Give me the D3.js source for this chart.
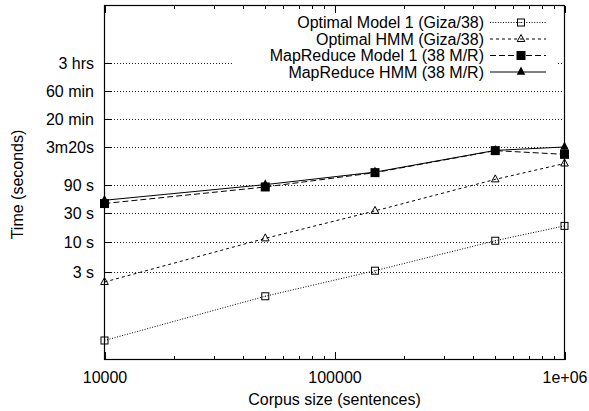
<!DOCTYPE html>
<html>
<head>
<meta charset="utf-8">
<script src="https://cdn.jsdelivr.net/npm/d3@7"></script>
<style>
  html, body { margin: 0; padding: 0; background: #fff; }
  svg { display: block; font-family: "Liberation Sans", Arial, Helvetica, sans-serif; }
</style>
</head>
<body>
<svg id="chart" width="589" height="411"></svg>
<script>
// ---- data ----
const corpusSizes = [10000, 50000, 150000, 500000, 1000000];
const optimalModel1 = [0.21, 1.18, 3.2, 10.3, 18.4];
const optimalHMM = [2.06, 11.3, 33, 113, 210];
const mapReduceModel1 = [44, 84, 147, 347, 300];
const mapReduceHMM = [50, 92, 150, 350, 400];
const seriesNames = ["Optimal Model 1 (Giza/38)", "Optimal HMM (Giza/38)", "MapReduce Model 1 (38 M/R)", "MapReduce HMM (38 M/R)"];
const yTickValues = [3, 10, 30, 90, 400, 1200, 3600, 10800];
const yTickLabels = ["3 s", "10 s", "30 s", "90 s", "3m20s", "20 min", "60 min", "3 hrs"];
const xTickValues = [10000, 100000, 1000000];
const xTickLabels = ["10000", "100000", "1e+06"];
const xTitle = "Corpus size (sentences)";
const yTitle = "Time (seconds)";

// ---- layout ----
const FS = "16px";
const L = 104.5, R = 564.5, T = 5.5, B = 359.5;
const svg = d3.select("#chart");
const x = d3.scaleLog().domain([1e4, 1e6]).range([L, R]);
const y = d3.scaleLog().domain([0.1, 1e5]).range([B, T]);

// minor x ticks
const xMinor = [];
[1e4, 1e5].forEach(d => { for (let k = 2; k <= 9; k++) xMinor.push(d * k); });

// grid lines
svg.append("g").selectAll("line").data(yTickValues).join("line")
  .attr("x1", L).attr("x2", R)
  .attr("y1", d => Math.round(y(d)) + 0.5).attr("y2", d => Math.round(y(d)) + 0.5)
  .attr("stroke", "#222").attr("stroke-width", 1).attr("stroke-dasharray", "1,2")
  .attr("shape-rendering", "crispEdges");

// axes
const fmtX = d => xTickLabels[xTickValues.indexOf(d)];
const fmtY = d => yTickLabels[yTickValues.indexOf(d)];

const gxb = svg.append("g").attr("transform", `translate(0,${B})`)
  .call(d3.axisBottom(x).tickValues(xTickValues).tickFormat(fmtX).tickSize(-7.5).tickPadding(11.8));
const gxbm = svg.append("g").attr("transform", `translate(0,${B})`)
  .call(d3.axisBottom(x).tickValues(xMinor).tickFormat("").tickSize(-3.8));
const gxt = svg.append("g").attr("transform", `translate(0,${T})`)
  .call(d3.axisTop(x).tickValues(xTickValues).tickFormat("").tickSize(-7.5));
const gxtm = svg.append("g").attr("transform", `translate(0,${T})`)
  .call(d3.axisTop(x).tickValues(xMinor).tickFormat("").tickSize(-3.8));
const gy = svg.append("g").attr("transform", `translate(${L},0)`)
  .call(d3.axisLeft(y).tickValues(yTickValues).tickFormat(fmtY).tickSize(-7.5).tickPadding(10.5));

[gxb, gxbm, gxt, gxtm, gy].forEach(g => {
  g.select(".domain").remove();
  g.selectAll("line").attr("stroke", "#000").attr("shape-rendering", "crispEdges");
  g.selectAll("text").attr("fill", "#000").style("font-size", FS)
    .style("font-family", '"Liberation Sans", Arial, sans-serif');
});
gy.selectAll("text").attr("dy", "0.35em");

// legend background (opaque key)
const legendX = 484, legendRowY = [22.5, 39, 55.5, 72];
svg.append("rect").attr("x", 232).attr("y", 14).attr("width", 324).attr("height", 66).attr("fill", "#fff");

// border
svg.append("rect").attr("x", L).attr("y", T).attr("width", R - L).attr("height", B - T)
  .attr("fill", "none").attr("stroke", "#000").attr("stroke-width", 1.2);

// series
const series = [
  { name: seriesNames[0], values: optimalModel1, dash: "1,1.6", marker: "openSquare" },
  { name: seriesNames[1], values: optimalHMM, dash: "3,3", marker: "openTriangle" },
  { name: seriesNames[2], values: mapReduceModel1, dash: "6,3", marker: "filledSquare" },
  { name: seriesNames[3], values: mapReduceHMM, dash: null, marker: "filledTriangle" }
];

function drawMarker(g, type, cx, cy) {
  if (type === "openSquare") {
    g.append("rect").attr("x", cx - 3.5).attr("y", cy - 3.5).attr("width", 7).attr("height", 7)
      .attr("fill", "none").attr("stroke", "#000").attr("stroke-width", 1);
    g.append("rect").attr("x", cx - 0.5).attr("y", cy - 0.5).attr("width", 1).attr("height", 1).attr("fill", "#000");
  } else if (type === "filledSquare") {
    g.append("rect").attr("x", cx - 4.5).attr("y", cy - 4.5).attr("width", 9).attr("height", 9).attr("fill", "#000");
  } else if (type === "openTriangle") {
    g.append("path").attr("d", `M${cx},${cy - 4.5}L${cx + 3.8},${cy + 2.5}L${cx - 3.8},${cy + 2.5}Z`)
      .attr("fill", "none").attr("stroke", "#000").attr("stroke-width", 1);
  } else {
    g.append("path").attr("d", `M${cx},${cy - 5.5}L${cx + 4.3},${cy + 2.8}L${cx - 4.3},${cy + 2.8}Z`)
      .attr("fill", "#000");
  }
}

const line = d3.line().x((d, i) => x(corpusSizes[i])).y(d => y(d));
series.forEach((s, si) => {
  const g = svg.append("g");
  g.append("path").attr("d", line(s.values)).attr("fill", "none").attr("stroke", "#000")
    .attr("stroke-width", 1).attr("stroke-dasharray", s.dash);
  s.values.forEach((v, i) => drawMarker(g, s.marker, x(corpusSizes[i]), y(v)));

  // legend entry
  const ly = legendRowY[si];
  svg.append("text").attr("x", legendX).attr("y", ly + 5.6).attr("text-anchor", "end")
    .style("font-size", FS).attr("fill", "#000").text(s.name);
  svg.append("line").attr("x1", 490).attr("x2", 546).attr("y1", ly).attr("y2", ly)
    .attr("stroke", "#000").attr("stroke-width", 1).attr("stroke-dasharray", s.dash);
  drawMarker(svg.append("g"), s.marker, 521, ly);
});

// axis titles
svg.append("text").attr("x", (L + R) / 2).attr("y", 405).attr("text-anchor", "middle")
  .style("font-size", FS).attr("fill", "#000").text(xTitle);
svg.append("text").attr("transform", `translate(23,${(T + B) / 2 + 2}) rotate(-90)`).attr("text-anchor", "middle")
  .style("font-size", FS).attr("fill", "#000").text(yTitle);
</script>
</body>
</html>
